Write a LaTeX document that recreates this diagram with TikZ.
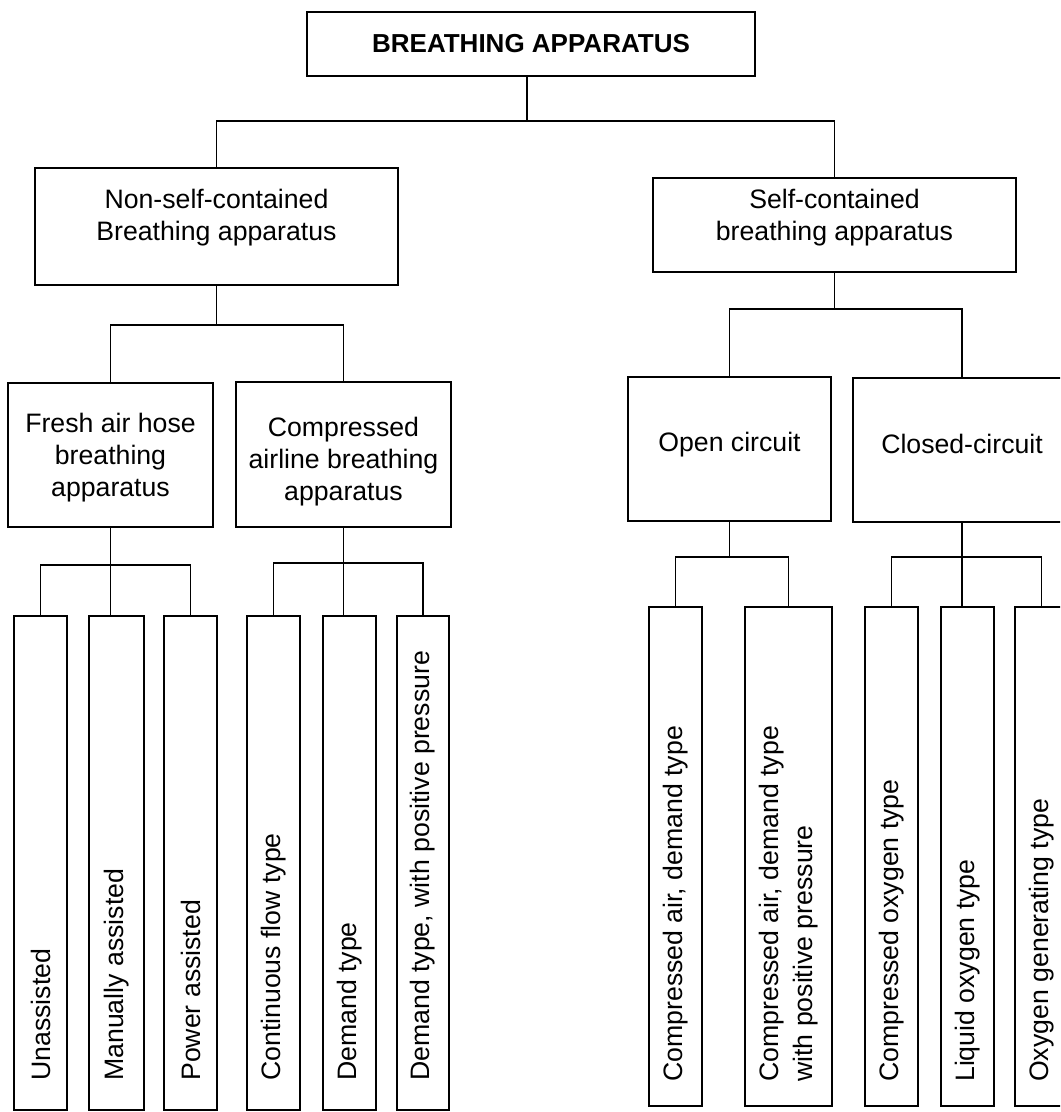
\documentclass[tikz,border=0pt]{standalone}
\usepackage{fontspec}
\setmainfont{Liberation Sans}
\begin{document}
\begin{tikzpicture}[x=0.75pt,y=-0.75pt,
  box/.style={draw, line width=2pt, rectangle, inner sep=0pt},
  lab/.style={inner sep=0pt, align=center, font=\fontsize{20}{24}\selectfont},
  conn/.style={line width=1.4pt},
  vlab/.style={rotate=90, anchor=west, inner sep=0pt, align=left,
    font=\fontsize{20}{25}\selectfont}]
\clip (0,0) rectangle (1060,1112);
% level 0
\node[box, minimum width={448*0.75pt}, minimum height={64*0.75pt}] (T) at (531,44) {};
\node[lab, font=\bfseries\fontsize{19.5}{23}\selectfont] (tT) at (T.center) {BREATHING APPARATUS};
% level 1
\node[box, minimum width={363*0.75pt}, minimum height={117*0.75pt}] (NS) at (216.5,226.5) {};
\node[lab] (tNS) at (216.5,218) {Non-self-contained\\Breathing apparatus};
\node[box, minimum width={363*0.75pt}, minimum height={94*0.75pt}] (SC) at (834.5,225) {};
\node[lab] (tSC) at (834.5,218) {Self-contained\\breathing apparatus};
% level 2
\node[box, minimum width={205*0.75pt}, minimum height={144*0.75pt}] (FR) at (110.5,455) {};
\node[lab] (tFR) at (110.5,457.5) {Fresh air hose\\breathing\\apparatus};
\node[box, minimum width={215*0.75pt}, minimum height={145*0.75pt}] (CA) at (343.5,454.5) {};
\node[lab] (tCA) at (343.5,462) {Compressed\\airline breathing\\apparatus};
\node[box, minimum width={203*0.75pt}, minimum height={144*0.75pt}] (OC) at (729.5,449) {};
\node[lab] (tOC) at (729.5,445) {Open circuit};
\node[box, minimum width={218*0.75pt}, minimum height={144*0.75pt}] (CC) at (962,450) {};
\node[lab] (tCC) at (962,444) {Closed-circuit};
% level 3 left
\foreach \n/\x/\w in {b1/40.5/53, b2/116.5/55, b3/190.5/53, b4/273.5/53, b5/349.5/53, b6/423/52}
  \node[box, minimum width={\w*0.75pt}, minimum height={494*0.75pt}] (\n) at (\x,863) {};
% level 3 right
\foreach \n/\x/\w in {r1/675.5/53, r2/788.5/87, r3/891.5/53, r4/967.5/53, r5/1041.5/53}
  \node[box, minimum width={\w*0.75pt}, minimum height={499*0.75pt}] (\n) at (\x,856.5) {};
% vertical labels
\node[vlab] (lb1) at (b1.center |- 0,1081) {Unassisted};
\node[vlab] (lb2) at (b2.center |- 0,1081) {Manually assisted};
\node[vlab] (lb3) at (b3.center |- 0,1081) {Power assisted};
\node[vlab] (lb4) at (b4.center |- 0,1081) {Continuous flow type};
\node[vlab] (lb5) at (b5.center |- 0,1081) {Demand type};
\node[vlab] (lb6) at (b6.center |- 0,1081) {Demand type, with positive pressure};
\node[vlab] (lr1) at (r1.center |- 0,1082) {Compressed air, demand type};
\node[vlab] (lr2) at (r2.center |- 0,1082) {Compressed air, demand type\\with positive pressure};
\node[vlab] (lr3) at (r3.center |- 0,1082) {Compressed oxygen type};
\node[vlab] (lr4) at (r4.center |- 0,1082) {Liquid oxygen type};
\node[vlab] (lr5) at (r5.center |- 0,1082) {Oxygen generating type};
% connectors
\coordinate (j0) at (527,121);
\draw[conn] (T.south -| j0) -- (j0);
\draw[conn] (NS.north) |- (j0) -| (SC.north);
\coordinate (j1) at (NS.south |- 0,325);
\draw[conn] (NS.south) -- (j1);
\draw[conn] (FR.north) |- (j1) -| (CA.north);
\coordinate (j2) at (SC.south |- 0,309);
\draw[conn] (SC.south) -- (j2);
\draw[conn] (OC.north) |- (j2) -| (CC.north);
\coordinate (j3) at (FR.south |- 0,565);
\draw[conn] (FR.south) -- (FR.south |- b2.north);
\draw[conn] (b1.north) |- (j3) -| (b3.north);
\coordinate (j4) at (CA.south |- 0,563);
\draw[conn] (CA.south) -- (CA.south |- b5.north);
\draw[conn] (b4.north) |- (j4) -| (b6.north);
\coordinate (j5) at (OC.south |- 0,557);
\draw[conn] (OC.south) -- (j5);
\draw[conn] (r1.north) |- (j5) -| (r2.north);
\coordinate (j6) at (CC.south |- 0,557);
\draw[conn] (CC.south) -- (CC.south |- r4.north);
\draw[conn] (r3.north) |- (j6) -| (r5.north);
\end{tikzpicture}
\end{document}
